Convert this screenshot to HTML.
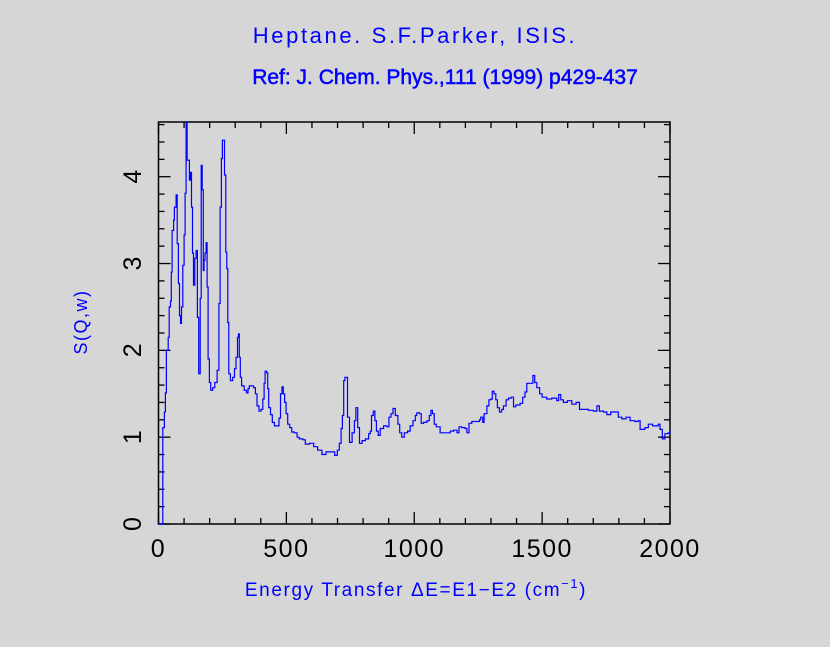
<!DOCTYPE html>
<html><head><meta charset="utf-8"><style>
html,body{margin:0;padding:0;background:#d6d6d6;}
svg{display:block;}
text{font-family:"Liberation Sans",sans-serif;}
</style></head><body>
<svg id="chart" width="830" height="647" viewBox="0 0 830 647" xmlns="http://www.w3.org/2000/svg">
<rect width="830" height="647" fill="#d6d6d6"/>
<text x="415" y="43" text-anchor="middle" font-size="22" fill="#0000ff" style="letter-spacing:2.6px">Heptane. S.F.Parker, ISIS.</text>
<text x="445" y="84" text-anchor="middle" font-size="21" fill="#0000ff" stroke="#0000ff" stroke-width="0.5">Ref: J. Chem. Phys.,111 (1999) p429-437</text>
<g id="axes"></g>
<path id="series" fill="none" stroke="#0000ff" stroke-width="1.2"/>
<text x="416" y="596" text-anchor="middle" font-size="19" fill="#0000ff" style="letter-spacing:1.6px">Energy Transfer ΔE=E1−E2 (cm<tspan dy="-8" font-size="13">−1</tspan><tspan dy="8">)</tspan></text>
<text transform="translate(87,322) rotate(-90)" text-anchor="middle" font-size="18" fill="#0000ff" style="letter-spacing:1.5px">S(Q,w)</text>
</svg>
<script>
const energies=[0,17,23,27,31,38,42,47,50,53,59,62,69,73,78,82,86,90,95,100,104,108,112,121,125,129,133,137,142,147,152,157,163,167,171,175,178,182,186,190,194,199,204,212,220,229,236,241,246,250,258,263,267,271,275,281,290,297,303,309,313,316,320,325,335,344,350,355,363,372,379,385,393,401,408,413,417,423,427,431,438,445,453,468,471,477,483,488,493,499,505,513,521,531,542,550,565,574,590,607,622,639,655,678,689,699,707,714,719,724,729,739,747,757,766,772,779,786,796,809,822,828,833,840,846,852,859,867,880,893,901,909,917,926,936,943,951,961,974,984,995,1004,1010,1021,1027,1036,1050,1059,1065,1071,1078,1086,1096,1101,1112,1125,1141,1154,1167,1175,1186,1199,1206,1214,1225,1242,1255,1260,1268,1273,1284,1292,1300,1305,1312,1319,1325,1333,1342,1349,1359,1368,1379,1388,1397,1414,1424,1433,1440,1453,1464,1471,1479,1490,1500,1518,1538,1557,1565,1573,1583,1599,1616,1633,1646,1661,1681,1701,1714,1724,1740,1753,1768,1789,1798,1812,1828,1844,1863,1876,1883,1902,1915,1932,1954,1961,1970,1980,1993,2000];
const intensities=[0,1.11,1.29,1.51,2.0,2.15,2.5,2.57,2.9,3.38,3.5,3.65,3.79,3.23,2.77,2.4,2.31,2.5,2.98,3.33,3.81,4.63,4.19,3.96,4.05,3.65,3.12,2.75,3.06,3.15,2.38,1.73,2.6,4.13,3.85,2.92,3.04,3.12,3.24,2.73,1.9,1.63,1.54,1.57,1.63,1.77,2.54,3.65,4.21,4.42,4.02,3.13,2.94,2.32,1.73,1.65,1.69,1.79,1.92,2.15,2.19,1.92,1.69,1.59,1.54,1.51,1.56,1.59,1.59,1.57,1.5,1.36,1.3,1.32,1.44,1.62,1.76,1.74,1.56,1.34,1.26,1.17,1.13,1.13,1.22,1.5,1.58,1.5,1.4,1.27,1.15,1.11,1.06,1.05,1.0,0.98,0.97,0.92,0.93,0.89,0.85,0.8,0.83,0.83,0.79,0.85,0.93,1.1,1.25,1.65,1.69,1.23,0.94,1.05,1.19,1.34,1.11,0.93,0.96,0.98,1.04,1.07,1.25,1.3,1.19,1.07,1.02,1.1,1.13,1.12,1.23,1.27,1.33,1.25,1.15,1.05,1.0,1.05,1.07,1.13,1.19,1.25,1.28,1.27,1.16,1.17,1.19,1.25,1.31,1.27,1.15,1.12,1.12,1.05,1.05,1.05,1.07,1.08,1.05,1.12,1.11,1.1,1.05,1.16,1.18,1.18,1.2,1.23,1.17,1.27,1.36,1.43,1.44,1.53,1.5,1.43,1.34,1.29,1.32,1.36,1.43,1.45,1.46,1.35,1.37,1.39,1.46,1.52,1.62,1.62,1.71,1.63,1.57,1.5,1.46,1.44,1.45,1.42,1.49,1.43,1.4,1.42,1.38,1.4,1.32,1.32,1.31,1.3,1.36,1.3,1.29,1.26,1.29,1.29,1.23,1.21,1.23,1.19,1.18,1.19,1.09,1.11,1.15,1.13,1.15,1.09,0.98,1.04,1.05,1.07];
const xTicks=[0,500,1000,1500,2000];
const xTickLabels=["0","500","1000","1500","2000"];
const yTicks=[0,1,2,3,4];
const yTickLabels=["0","1","2","3","4"];
const X0=158.5,X1=670,Y0=524,Y1=122;
const xMin=0,xMax=2000,yMin=0,yMax=4.63;
function sx(v){return X0+(v-xMin)/(xMax-xMin)*(X1-X0);}
function sy(v){return Y0-(v-yMin)/(yMax-yMin)*(Y0-Y1);}
const NS="http://www.w3.org/2000/svg";
const ax=document.getElementById('axes');
function line(x1,y1,x2,y2,name){
  const l=document.createElementNS(NS,'line');
  l.setAttribute('x1',x1);l.setAttribute('y1',y1);l.setAttribute('x2',x2);l.setAttribute('y2',y2);
  l.setAttribute('stroke','#000');l.setAttribute('stroke-width','1.3');
  
  
  ax.appendChild(l);
}
const fr=document.createElementNS(NS,'rect');
fr.setAttribute('x',X0);fr.setAttribute('y',Y1);fr.setAttribute('width',X1-X0);fr.setAttribute('height',Y0-Y1);
fr.setAttribute('fill','none');fr.setAttribute('stroke','#000');fr.setAttribute('stroke-width','1.5');


ax.appendChild(fr);
for(let v=0;v<=2000;v+=100){
  const major=v%500===0, len=major?12:6, x=sx(v);
  line(x,Y0,x,Y0-len,'x-tick');
  line(x,Y1,x,Y1+len,'x-tick-top');
}
for(let i=0;i<=23;i++){
  const v=i*0.2; if(v>yMax) break;
  const major=Math.abs(v-Math.round(v))<1e-6, len=major?12:6, y=sy(v);
  line(X0,y,X0+len,y,'y-tick');
  line(X1,y,X1-len,y,'y-tick-right');
}
xTicks.forEach((v,i)=>{
  const t=document.createElementNS(NS,'text');
  t.setAttribute('x',sx(v));t.setAttribute('y',557);t.setAttribute('text-anchor','middle');
  t.setAttribute('font-size','25');t.setAttribute('fill','#000');
  t.setAttribute('style','letter-spacing:1.5px');
  t.textContent=xTickLabels[i];
  
  
  ax.appendChild(t);
});
yTicks.forEach((v,i)=>{
  const t=document.createElementNS(NS,'text');
  t.setAttribute('transform','translate(141,'+sy(v)+') rotate(-90)');
  t.setAttribute('text-anchor','middle');
  t.setAttribute('font-size','25');t.setAttribute('fill','#000');
  t.textContent=yTickLabels[i];
  
  
  ax.appendChild(t);
});
let d='M'+sx(energies[0])+','+sy(intensities[0]);
for(let i=1;i<energies.length;i++){
  d+=' H'+sx(energies[i]).toFixed(1)+' V'+Math.max(Y1,sy(intensities[i])).toFixed(1);
}
document.getElementById('series').setAttribute('d',d);
</script>
</body></html>
